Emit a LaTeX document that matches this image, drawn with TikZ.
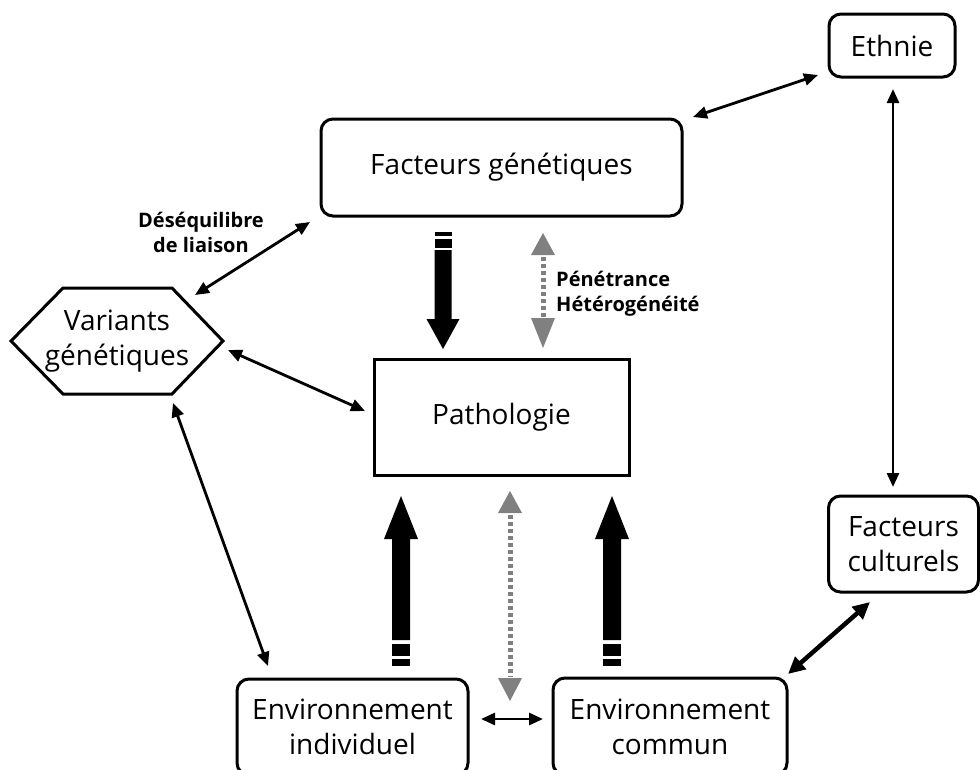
\documentclass[tikz,border=0pt]{standalone}
\usepackage{fontspec}
\setmainfont{Open Sans}
\usetikzlibrary{arrows.meta}
\newcommand{\mybigtxt}{\fontsize{28}{35}\selectfont}
\newcommand{\mylbltxt}{\fontsize{20}{25}\selectfont\bfseries}
\begin{document}
\begin{tikzpicture}[x=1pt,y=-1pt,
  box/.style={draw, line width=3pt, rounded corners=12pt, align=center, font=\mybigtxt, inner sep=0pt},
  sqbox/.style={draw, line width=3pt, align=center, font=\mybigtxt, inner sep=0pt},
  txt/.style={align=center, font=\mybigtxt, inner sep=0pt},
  lbl/.style={font=\mylbltxt, inner sep=0pt},
  thinarr/.style={line width=2.8pt, {Triangle[length=14pt,width=12pt]}-{Triangle[length=14pt,width=12pt]}},
  boldarr/.style={line width=4.5pt, {Triangle[length=17pt,width=16pt]}-{Triangle[length=17pt,width=16pt]}},
  grayline/.style={draw=gray, line width=5pt, dash pattern=on 4pt off 3pt},
]
\useasboundingbox (0,0) rectangle (980,769);

% nodes
\node[box, minimum width=361pt, minimum height=97pt] (fg) at (501.5,167.5) {Facteurs génétiques};
\node[box, minimum width=126pt, minimum height=63pt] (eth) at (892,45.5) {Ethnie};
\node[sqbox, minimum width=255pt, minimum height=116pt] (path) at (501.5,417) {Pathologie};
\node[box, minimum width=150pt, minimum height=96pt] (fc) at (903.5,544) {Facteurs\\culturels};
\node[box, minimum width=231pt, minimum height=96pt] (ei) at (352.5,727) {Environnement\\individuel};
\node[box, minimum width=234pt, minimum height=97pt] (ec) at (670,726.5) {Environnement\\commun};
\draw[line width=3pt, line join=miter] (11,341) -- (63,288) -- (172,288) -- (223,341) -- (172,394) -- (63,394) -- cycle;
\node[txt] (var) at (117,341) {Variants\\génétiques};

% labels
\node[lbl, align=center] (ldl) at (201,232) {Déséquilibre\\de liaison};
\node[lbl, align=left, anchor=west] (lpen) at (556,294) {Pénétrance\\Hétérogénéité};

% thin arrow end points
\coordinate (a1) at (693,117); \coordinate (a2) at (818,75);
\coordinate (b1) at (893,89);  \coordinate (b2) at (893,487);
\coordinate (c1) at (195,295); \coordinate (c2) at (310,222);
\coordinate (d1) at (228,350); \coordinate (d2) at (365,411);
\coordinate (e1) at (173,403); \coordinate (e2) at (268,666);
\coordinate (f1) at (481,719); \coordinate (f2) at (543,719);
\coordinate (g1) at (870,602); \coordinate (g2) at (788,674);

\draw[thinarr] (a1) -- (a2);
\draw[thinarr] (b1) -- (b2);
\draw[thinarr] (c1) -- (c2);
\draw[thinarr] (d1) -- (d2);
\draw[thinarr] (e1) -- (e2);
\draw[thinarr] (f1) -- (f2);
\draw[boldarr] (g1) -- (g2);

% thick black arrow: genetics -> pathology
\fill (434.5,232) rectangle (451.5,236);
\fill (434.5,239) rectangle (451.5,248);
\fill (434.5,250) -- (451.5,250) -- (451.5,319) -- (459.5,319) -- (443,349) -- (426.5,319) -- (434.5,319) -- cycle;

% thick black arrows: environments -> pathology
\foreach \xx in {401,612}{
  \fill (\xx-9,644) rectangle (\xx+9,656);
  \fill (\xx-9,659) rectangle (\xx+9,666);
  \fill (\xx-9,640) -- (\xx+9,640) -- (\xx+9,539) -- (\xx+17,539) -- (\xx,496) -- (\xx-17,539) -- (\xx-9,539) -- cycle;
}

% gray dotted double arrows
\draw[grayline] (543,257) -- (543,317);
\fill[gray] (543,233) -- (555,255) -- (531,255) -- cycle;
\fill[gray] (543,348) -- (555,318) -- (531,318) -- cycle;
\draw[grayline] (510,515) -- (510,677);
\fill[gray] (510,491) -- (522,513) -- (498,513) -- cycle;
\fill[gray] (510,701) -- (522,678) -- (498,678) -- cycle;
\end{tikzpicture}
\end{document}
